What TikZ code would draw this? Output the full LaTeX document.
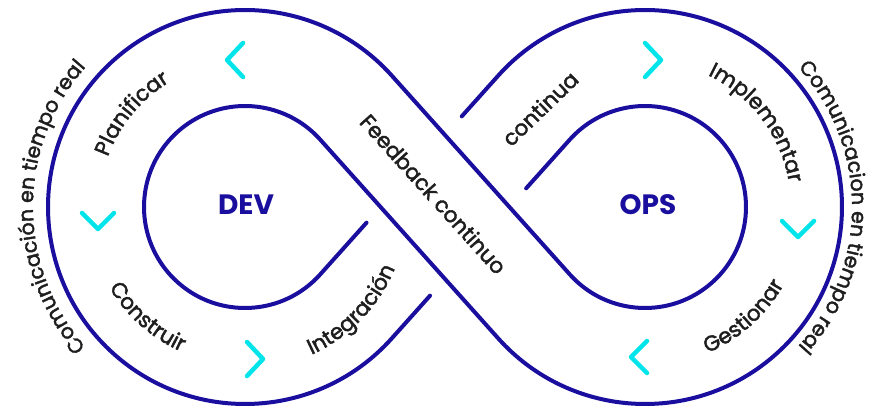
\documentclass[tikz,border=0pt]{standalone}
\usepackage{fontspec}
\setmainfont{Poppins}
\newfontfamily\medfam{Poppins}[FakeBold=2]
\usetikzlibrary{calc,decorations.text}
\definecolor{loopblue}{RGB}{26,14,158}
\definecolor{chevcyan}{RGB}{0,228,234}
\definecolor{txtgray}{RGB}{30,30,30}
\newcommand\labfont{\medfam\fontsize{21.5}{21.5}\selectfont\color{txtgray}}
\newcommand\comfont{\medfam\fontsize{20.5}{20.5}\selectfont\color{txtgray}}
\begin{document}
\begin{tikzpicture}[x=1pt,y=1pt,
  loopline/.style={draw=loopblue,line width=4pt,line cap=round,line join=round},
  chev/.style={draw=chevcyan,line width=4.5pt,line cap=round,line join=round},
  lbl/.style={font=\labfont,text=txtgray,inner sep=0pt},
  hub/.style={font=\fontsize{28}{28}\selectfont\bfseries,text=loopblue,inner sep=0pt},
  arctext/.style={decorate,decoration={text along path,text align=center,text={#1}}}
]
\useasboundingbox (0,0) rectangle (870,408);
\coordinate (L) at (245,201);
\coordinate (R) at (645,201);
\coordinate (A1) at ($(L)+(41.84:197)$);
\coordinate (A2) at ($(R)+(221.84:101)$);
\coordinate (A3) at ($(R)+(138.16:101)$);
\coordinate (A4) at ($(L)+(-41.84:197)$);
\coordinate (B1) at ($(L)+(41.84:101)$);
\coordinate (B2) at ($(R)+(221.84:197)$);
\coordinate (B3) at ($(R)+(138.16:197)$);
\coordinate (B4) at ($(L)+(-41.84:101)$);
\coordinate (GA1) at ($(A4)!0.215!(A3)$);
\coordinate (GA2) at ($(A4)!0.755!(A3)$);
\coordinate (GB1) at ($(B4)!0.26!(B3)$);
\coordinate (GB2) at ($(B4)!0.795!(B3)$);
% curve A: big left loop, small right loop
\draw[loopline] (GA1) -- (A4) arc[start angle=-41.84,end angle=-318.16,radius=197]
  -- (A2) arc[start angle=221.84,end angle=498.16,radius=101] -- (GA2);
% curve B: small left loop, big right loop
\draw[loopline] (GB1) -- (B4) arc[start angle=-41.84,end angle=-318.16,radius=101]
  -- (B2) arc[start angle=221.84,end angle=498.16,radius=197] -- (GB2);
% chevrons
\draw[chev] (243,365) -- (227,348) -- (243,331);
\draw[chev] (82,195) -- (98,179) -- (114,195);
\draw[chev] (247,66) -- (263,49) -- (247,32);
\draw[chev] (645,365) -- (661,348) -- (645,331);
\draw[chev] (782,187) -- (798,171) -- (814,187);
\draw[chev] (647,67) -- (631,51) -- (647,35);
% hubs
\node[hub] (dev) at (246,203) {DEV};
\node[hub] (ops) at (648,203) {OPS};
% straight labels
\node[lbl,rotate=-48] (fb) at (433.5,214) {Feedback continuo};
\node[lbl,rotate=44] (cont) at (540,299.5) {continua};
% curved labels
\path[arctext={|\labfont|Planificar}] ($(L)+(175:146)$) arc[start angle=175,end angle=106,radius=146];
\path[arctext={|\labfont|Construir}] ($(L)+(195:158)$) arc[start angle=195,end angle=262,radius=158];
\path[arctext={|\labfont|Integración}] ($(L)+(-80:162)$) arc[start angle=-80,end angle=-8,radius=162];
\path[arctext={|\labfont|Implementar}] ($(R)+(75:146)$) arc[start angle=75,end angle=-1,radius=146];
\path[arctext={|\labfont|Gestionar}] ($(R)+(-84:159)$) arc[start angle=-84,end angle=-12,radius=159];
\path[arctext={|\comfont|Comunicación en tiempo real}] ($(L)+(245:212)$) arc[start angle=245,end angle=115,radius=212];
\path[arctext={|\comfont|Comunicacion en tiempo real}] ($(R)+(65:207)$) arc[start angle=65,end angle=-65,radius=207];
\end{tikzpicture}
\end{document}
